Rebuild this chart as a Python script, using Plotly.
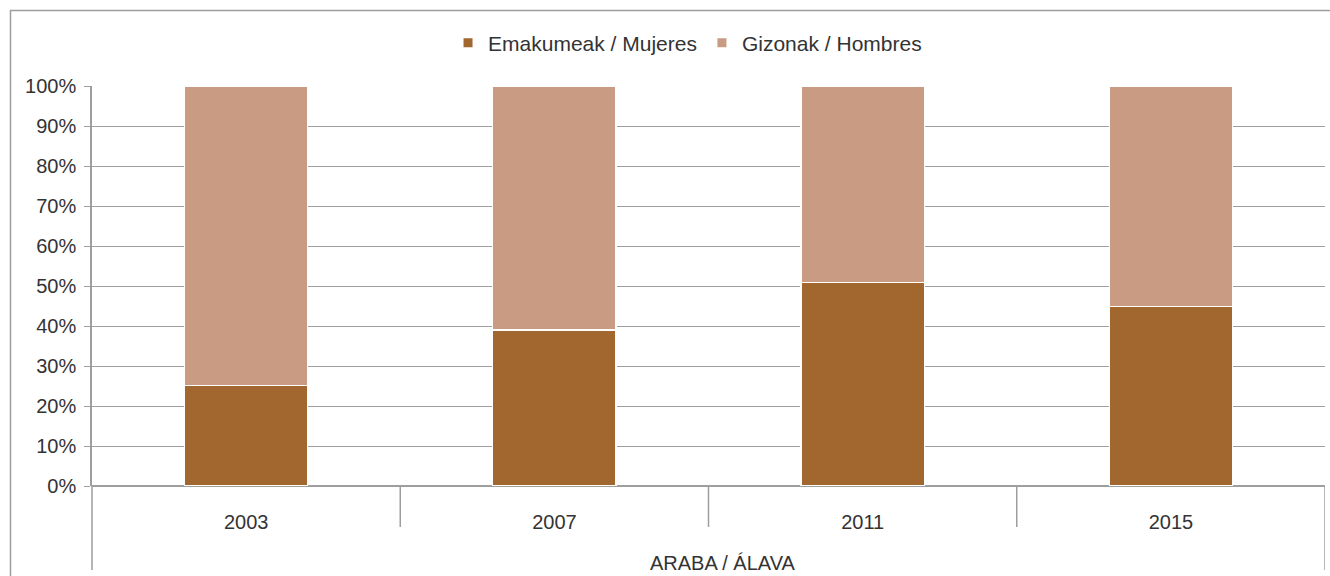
import plotly.graph_objects as go

years = ["2003", "2007", "2011", "2015"]
women = [25.2, 39.0, 50.8, 44.8]
men = [74.8, 61.0, 49.2, 55.2]
series_names = ["Emakumeak / Mujeres", "Gizonak / Hombres"]
colors = ["#A2672E", "#C99B83"]
y_ticks = [0, 10, 20, 30, 40, 50, 60, 70, 80, 90, 100]
y_tick_text = [f"{v}%" for v in y_ticks]
group_label = "ARABA / ÁLAVA"

FONT = "Liberation Sans"
TXT = "#333333"
GRID = "#9E9E9E"
FS = 20

W, H = 1330, 576
L, R, T, B = 92, 5, 86, 90
PW = W - L - R
PH = H - T - B

fig = go.Figure()
for vals, name, col in [(women, series_names[0], colors[0]), (men, series_names[1], colors[1])]:
    fig.add_trace(go.Bar(x=years, y=vals, name=name, marker=dict(color=col, line=dict(color="white", width=1.2)),
                         showlegend=False, width=0.4))
for name, col in zip(series_names, colors):
    fig.add_trace(go.Scatter(x=[None], y=[None], mode="markers", name=name,
                             marker=dict(symbol="square", size=9, color=col)))

fig.update_layout(
    width=W, height=H,
    barmode="stack",
    plot_bgcolor="white", paper_bgcolor="white",
    margin=dict(l=L, r=R, t=T, b=B),
    font=dict(family=FONT, size=FS, color=TXT),
    legend=dict(orientation="h", x=0.483, xanchor="center", y=1 + 43 / PH, yanchor="middle",
                font=dict(size=21, color=TXT), itemwidth=30, tracegroupgap=0, traceorder="normal"),
    xaxis=dict(type="category", showgrid=False, ticks="", showline=False, range=[-0.5, 3.5],
               tickfont=dict(size=FS, color=TXT), ticklabelstandoff=22),
    yaxis=dict(range=[0, 100], tickvals=y_ticks, ticktext=y_tick_text, showgrid=True, gridcolor=GRID, gridwidth=1,
               zeroline=True, zerolinecolor=GRID, zerolinewidth=1.5,
               ticks="outside", ticklen=6, tickcolor=GRID, showline=True, linecolor=GRID, linewidth=1.5,
               tickfont=dict(size=FS, color=TXT), ticklabelstandoff=4),
)

shapes = []
for b in [0.5, 1.5, 2.5]:
    shapes.append(dict(type="line", xref="x", yref="paper", x0=b, x1=b, y0=0, y1=-41 / PH,
                       line=dict(color=GRID, width=1.5)))
shapes.append(dict(type="line", xref="x", yref="paper", x0=3.5, x1=3.5, y0=0, y1=-84 / PH,
                   line=dict(color=GRID, width=1.5)))
shapes.append(dict(type="line", xref="paper", yref="paper", x0=0, x1=0, y0=0, y1=-84 / PH,
                   line=dict(color=GRID, width=1.5)))
# chart border (top and left)
shapes.append(dict(type="line", xref="paper", yref="paper", x0=-82 / PW, x1=1.2, y0=1 + 75.5 / PH, y1=1 + 75.5 / PH,
                   line=dict(color=GRID, width=1.5)))
shapes.append(dict(type="line", xref="paper", yref="paper", x0=-81.5 / PW, x1=-81.5 / PW, y0=1 + 76 / PH, y1=-0.3,
                   line=dict(color=GRID, width=1.5)))
fig.update_layout(shapes=shapes)

fig.add_annotation(text=group_label, xref="paper", yref="paper", x=(723 - 92) / PW, y=-(563 - 486) / PH,
                   xanchor="center", yanchor="middle", showarrow=False, font=dict(size=FS, color=TXT))

fig.write_html("out.html", config={"displayModeBar": False},
               post_script="document.body.style.margin='0';document.body.style.overflow='hidden';")
